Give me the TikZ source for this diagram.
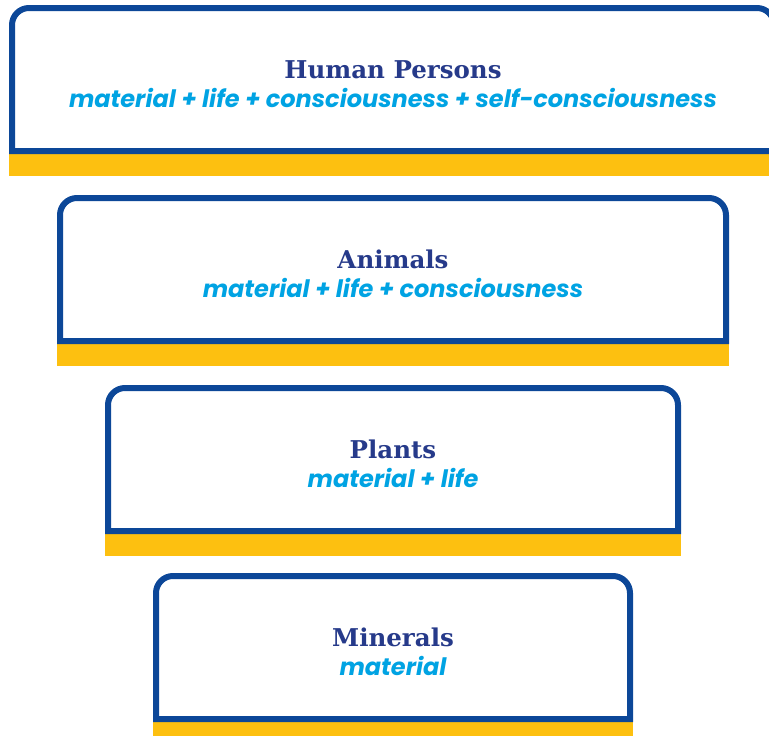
\documentclass[tikz,border=0pt]{standalone}
\usepackage{fontspec}
\usepackage{tikz}
\usetikzlibrary{positioning, calc}
\newfontfamily\titlefont{DejaVu Serif}
\newfontfamily\subfont{Poppins}

\definecolor{tierblue}{HTML}{0C4798}
\definecolor{tiernavy}{HTML}{263A8A}
\definecolor{tiercyan}{HTML}{00A3E3}
\definecolor{tiergold}{HTML}{FDC010}

\tikzset{
    tierline/.style={draw=tierblue, line width=6pt, fill=white},
    tierbar/.style={fill=tiergold, draw=none},
    tiertitle/.style={text=tiernavy, font=\titlefont\bfseries\fontsize{24.5}{26}\selectfont, anchor=base, inner sep=0pt},
    tiersub/.style={text=tiercyan, font=\subfont\bfseries\itshape\fontsize{24}{26}\selectfont, anchor=base, inner sep=0pt}
}

% #1 name, #2 left, #3 right, #4 top, #5 title, #6 subtitle
\newcommand{\tierbox}[6]{%
    \fill[tierbar] (#2,#4+149) rectangle (#3,#4+170.5);
    \draw[tierline] (#2+3,#4+146) -- (#2+3,#4+20)
        arc[start angle=180, end angle=270, radius=17] -- (#3-20,#4+3)
        arc[start angle=270, end angle=360, radius=17] -- (#3-3,#4+146) -- cycle;
    \node[tiertitle] (#1) at (393,#4+73) {#5};
    \node[tiersub, below=29pt of #1.base, anchor=base] (#1-sub) {#6};
}

\begin{document}
\begin{tikzpicture}[x=1pt, y=-1pt]

        % Khung hình
        \useasboundingbox (0,0) rectangle (769,736);
        \clip (0,0) rectangle (769,736);

        % Bốn tầng
        \tierbox{human}{9}{777}{5}{Human Persons}{material + life + consciousness + self-consciousness}
        \tierbox{animal}{57}{729}{195}{Animals}{material + life + consciousness}
        \tierbox{plant}{105}{681}{385}{Plants}{material + life}
        \tierbox{mineral}{153}{633}{573}{Minerals}{material}

\end{tikzpicture}
\end{document}
